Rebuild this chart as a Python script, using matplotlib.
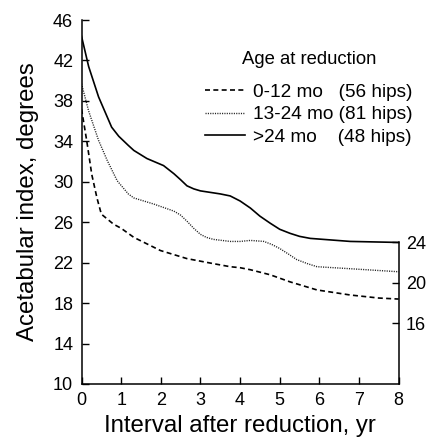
import matplotlib
matplotlib.use("Agg")
import matplotlib.pyplot as plt

plt.rcParams['font.family'] = ['Liberation Sans', 'DejaVu Sans']

# Data
x_0_12 = [0, 0.13, 0.26, 0.39, 0.5, 0.81, 1.0, 1.32, 1.99, 2.66, 3.33, 3.75, 4.0, 4.26, 4.76, 5.26, 5.94, 6.78, 7.5, 8.0]
y_0_12 = [37.2, 34.1, 30.7, 28.4, 26.8, 25.8, 25.4, 24.5, 23.2, 22.4, 21.9, 21.6, 21.5, 21.3, 20.8, 20.1, 19.3, 18.8, 18.5, 18.4]

x_13_24 = [0, 0.18, 0.43, 0.65, 0.9, 1.18, 1.32, 1.82, 2.33, 2.5, 2.66, 2.83, 3.0, 3.15, 3.33, 3.75, 4.0, 4.26, 4.6, 4.8, 5.0, 5.2, 5.43, 5.7, 5.94, 6.78, 8.0]
y_13_24 = [39.7, 37.0, 34.1, 32.1, 30.1, 28.8, 28.4, 27.8, 27.1, 26.7, 26.1, 25.4, 24.8, 24.5, 24.3, 24.1, 24.1, 24.2, 24.1, 23.8, 23.4, 22.9, 22.3, 21.9, 21.6, 21.4, 21.1]

x_24 = [0, 0.18, 0.43, 0.76, 0.94, 1.18, 1.32, 1.65, 2.07, 2.2, 2.33, 2.5, 2.66, 2.83, 3.0, 3.5, 3.75, 4.0, 4.26, 4.5, 4.76, 5.0, 5.26, 5.5, 5.77, 6.78, 8.0]
y_24 = [44.4, 41.4, 38.4, 35.4, 34.5, 33.6, 33.1, 32.3, 31.6, 31.2, 30.8, 30.2, 29.6, 29.3, 29.1, 28.8, 28.6, 28.1, 27.4, 26.6, 25.9, 25.3, 24.9, 24.6, 24.4, 24.1, 24.0]

labels = ["0-12 mo   (56 hips)", "13-24 mo (81 hips)", ">24 mo    (48 hips)"]
legend_title = "Age at reduction"
left_ticks = [10, 14, 18, 22, 26, 30, 34, 38, 42, 46]
right_ticks = [16, 20, 24]
x_ticks = [0, 1, 2, 3, 4, 5, 6, 7, 8]

fig = plt.figure(figsize=(4.42, 4.41), dpi=100)
ax = fig.add_axes([0.1844, 0.1293, 0.902 - 0.1844, 0.9546 - 0.1293])

l1, = ax.plot(x_0_12, y_0_12, color='black', lw=1.2, dashes=(3, 2))
l2, = ax.plot(x_13_24, y_13_24, color='#222222', lw=1.0, dashes=(0.8, 0.9))
l3, = ax.plot(x_24, y_24, color='black', lw=1.2)

ax.set_xlim(0, 8)
ax.set_ylim(10, 46)
ax.set_xticks(x_ticks)
ax.set_yticks(left_ticks)
for s in ['top', 'right']:
    ax.spines[s].set_visible(False)
for s in ['left', 'bottom']:
    ax.spines[s].set_linewidth(1.1)
ax.tick_params(direction='in', length=5, width=1.0, labelsize=13, pad=6)

ax2 = ax.twinx()
ax2.set_ylim(10, 46)
ax2.set_yticks(right_ticks)
for s in ['top', 'left', 'bottom']:
    ax2.spines[s].set_visible(False)
ax2.spines['right'].set_bounds(10, 24)
ax2.spines['right'].set_linewidth(1.1)
ax2.tick_params(direction='in', length=5, width=1.0, labelsize=13, pad=5)

ax.set_xlabel("Interval after reduction, yr", fontsize=17.3, labelpad=4)
ax.set_ylabel("Acetabular index, degrees", fontsize=17.3, labelpad=10)

leg = ax.legend([l1, l2, l3], labels, title=legend_title, loc='upper left',
                bbox_to_anchor=(0.39, 0.915), frameon=False, fontsize=13.7,
                title_fontsize=13.3, handlelength=2.1, handletextpad=0.4,
                labelspacing=0.28, borderpad=0, borderaxespad=0)
leg._legend_box.sep = 11

fig.savefig("out.png", dpi=100)
